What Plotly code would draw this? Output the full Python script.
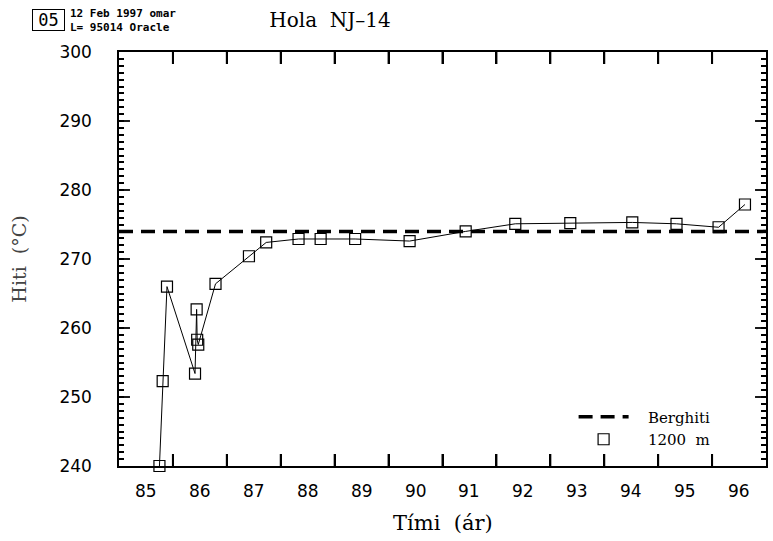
import plotly.graph_objects as go

# ---- data ----
years = [85.25, 85.31, 85.39, 85.91, 85.94, 85.95, 85.97, 86.29, 86.91, 87.23,
         87.83, 88.24, 88.88, 89.89, 90.93, 91.85, 92.87, 94.02, 94.84, 95.62, 96.11]
temps = [240.0, 252.3, 266.0, 253.4, 262.7, 258.3, 257.6, 266.4, 270.4, 272.4,
         272.9, 272.9, 272.9, 272.6, 274.0, 275.1, 275.2, 275.3, 275.1, 274.6, 277.9]
berg_x = [84.5, 96.5]
berg_y = [274.0, 274.0]
x_labels = [85, 86, 87, 88, 89, 90, 91, 92, 93, 94, 95, 96]
x_bounds = [85.5, 86.5, 87.5, 88.5, 89.5, 90.5, 91.5, 92.5, 93.5, 94.5, 95.5]
y_labels = [240, 250, 260, 270, 280, 290, 300]
y_minor = list(range(240, 301))
x_range = [84.5, 96.5]
y_range = [240, 300]

SERIF = "DejaVu Serif"
SANS = "DejaVu Sans"
MONO = "DejaVu Sans Mono"
NB = "\u00a0"

PLOT_W, PLOT_H = 649, 414

fig = go.Figure()
fig.add_trace(go.Scatter(
    x=berg_x, y=berg_y, mode="lines", name=NB * 3 + "Berghiti",
    line=dict(color="black", width=3.5, dash="14px,8px"),
))
fig.add_trace(go.Scatter(
    x=years, y=temps, mode="lines+markers", showlegend=False, cliponaxis=False,
    line=dict(color="black", width=1),
    marker=dict(symbol="square-open", size=11, color="black", line=dict(width=1.2)),
))
fig.add_trace(go.Scatter(
    x=[None], y=[None], mode="markers", name=NB * 3 + "1200" + NB * 2 + "m",
    marker=dict(symbol="square-open", size=11, color="black", line=dict(width=1.2)),
))

fig.update_layout(
    width=773, height=541,
    margin=dict(l=119, r=5, t=52, b=75),
    paper_bgcolor="white", plot_bgcolor="white",
    title=dict(text="Hola" + NB * 2 + "NJ\u201314", font=dict(family=SERIF, size=20, color="black"),
               xref="container", x=330/773, xanchor="center",
               yref="container", y=1 - 20/541, yanchor="middle"),
    xaxis=dict(
        range=x_range, tickmode="array", tickvals=x_bounds, showticklabels=False,
        ticks="inside", ticklen=12, tickwidth=2, tickcolor="black",
        showgrid=False, zeroline=False,
        showline=True, linecolor="black", linewidth=1.5, mirror="ticks",
    ),
    yaxis=dict(
        range=y_range, tickmode="array", tickvals=y_minor,
        ticktext=[str(v) if v % 10 == 0 else "" for v in y_minor],
        ticks="inside", ticklen=5, tickwidth=1.6, tickcolor="black",
        showgrid=False, zeroline=False,
        showline=True, linecolor="black", linewidth=1.5, mirror="ticks",
        tickfont=dict(family=SANS, size=17, color="black"), ticklabelstandoff=22,
        title=dict(text="Hiti" + NB * 2 + "(°C)", font=dict(family=SERIF, size=19, color="#444"),
                   standoff=28),
    ),
    legend=dict(x=(575 - 119) / PLOT_W, y=(466 - 428) / PLOT_H, xanchor="left", yanchor="middle",
                bgcolor="rgba(0,0,0,0)", font=dict(family=SERIF, size=15, color="black"),
                itemwidth=50, tracegroupgap=0),
    showlegend=True,
)

# x tick labels centred in each year interval
for v in x_labels:
    fig.add_annotation(text=str(v), x=v, xref="x", y=-25 / PLOT_H, yref="paper",
                       xanchor="center", yanchor="middle", showarrow=False,
                       font=dict(family=SANS, size=17, color="black"))
# x axis title
fig.add_annotation(text="Tími" + NB * 2 + "(ár)", x=0.5, xref="paper", y=-57 / PLOT_H,
                   yref="paper", xanchor="center", yanchor="middle", showarrow=False,
                   font=dict(family=SERIF, size=21, color="black"))

# year-boundary tick marks (bottom and top)
for v in x_bounds:
    fig.add_shape(type="line", xref="x", yref="paper", x0=v, x1=v, y0=0, y1=12 / PLOT_H,
                  line=dict(color="black", width=2))
    fig.add_shape(type="line", xref="x", yref="paper", x0=v, x1=v, y0=1 - 12 / PLOT_H, y1=1,
                  line=dict(color="black", width=2))

# longer major ticks at the labelled y values (both sides)
for v in y_labels[1:-1]:
    fig.add_shape(type="line", xref="paper", yref="y", x0=0, x1=11 / PLOT_W, y0=v, y1=v,
                  line=dict(color="black", width=1.8))
    fig.add_shape(type="line", xref="paper", yref="y", x0=1 - 11 / PLOT_W, x1=1, y0=v, y1=v,
                  line=dict(color="black", width=1.8))

fig.add_annotation(text="12 Feb 1997 omar<br>L= 95014 Oracle", xref="paper", yref="paper",
                   x=(68 - 119) / PLOT_W, y=(466 - 20) / PLOT_H, xanchor="left", yanchor="middle",
                   align="left", showarrow=False,
                   font=dict(family=MONO, size=11, color="black", weight="bold"))
fig.add_annotation(text="05", xref="paper", yref="paper",
                   x=(32 - 119) / PLOT_W, y=(466 - 20) / PLOT_H, xanchor="left", yanchor="middle",
                   showarrow=False, width=31, height=20, borderwidth=1, bordercolor="black",
                   borderpad=0, font=dict(family=MONO, size=17, color="black"))

fig.write_html("out.html")
